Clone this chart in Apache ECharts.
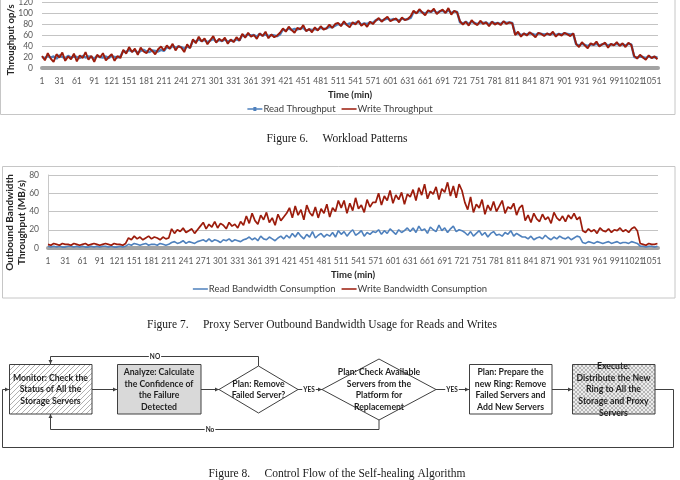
<!DOCTYPE html>
<html>
<head>
<meta charset="utf-8">
<script src="https://cdn.jsdelivr.net/npm/echarts@6/dist/echarts.min.js"></script>
<style>
html, body { margin: 0; background: #fff; }
#main { width: 680px; height: 480px; }
</style>
</head>
<body>
<div id="main"></div>
<script>
// one sample every 5 minutes, minute 0 .. 1060
var STEP = 5;
var X_MAX = 1061;
var TICK = 30;

// Figure 6 - throughput (op/s)
var readThroughput = [
  20,18,22,19,21,17,23,20,18,22,19,21,20,18,22,19,21,20,17,22,20,19,21,18,22,20,19,21,
  31,29,33,30,32,28,31,33,30,29,32,31,30,33,31,
  38,36,40,37,39,38,35,39,37,
  50,48,52,49,51,47,50,53,48,51,49,52,48,50,49,52,50,
  60,58,61,59,60,57,62,59,61,58,60,59,58,61,
  70,68,72,69,71,70,72,73,68,70,69,71,70,73,71,72,75,74,77,
  80,78,82,79,81,80,82,84,79,81,80,83,82,
  87,89,86,88,90,87,89,88,86,90,88,89,91,
  102,100,104,101,99,103,102,105,100,103,104,101,105,100,103,102,
  83,81,84,80,84,82,80,83,82,83,79,84,81,82,80,84,82,83,82,
  62,63,60,62,61,63,62,60,63,62,61,62,61,63,60,62,61,63,62,61,62,
  43,41,44,42,40,43,42,44,41,43,44,41,43,42,44,42,43,41,44,43,
  20,19,21,20,18,21,19,20,19
];
var writeThroughput = [
  22,14,27,17,11,25,19,28,13,21,16,26,12,23,18,29,15,22,11,24,19,27,14,20,25,13,22,18,
  33,26,38,29,35,24,37,30,27,36,31,25,34,39,32,
  41,35,44,32,40,37,29,43,36,
  52,45,57,48,54,43,51,58,46,53,49,55,44,52,47,56,50,
  62,55,64,57,60,53,63,58,66,54,61,56,59,64,
  72,66,75,69,64,73,70,78,67,71,65,74,68,76,70,72,79,73,80,
  82,76,85,78,74,83,79,86,77,81,75,84,80,
  86,91,84,89,93,85,88,90,83,92,87,89,94,
  104,99,107,101,96,105,102,108,98,103,106,100,109,97,104,101,
  85,79,84,77,87,81,78,86,80,83,76,84,79,82,78,85,80,83,81,
  60,66,57,63,59,65,61,56,64,62,58,63,60,66,57,62,59,64,61,58,63,
  44,38,47,41,36,45,42,48,39,43,46,37,44,41,47,40,45,38,46,42,
  22,17,24,19,15,23,18,21,16
];

// Figure 7 - outbound bandwidth (MB/s)
var readBandwidth = [
  2,1,2,1,2,1,1,2,2,1,2,1,2,1,1,2,1,2,1,2,2,1,2,1,1,2,1,2,
  4,3,5,4,3,4,5,3,4,4,3,5,4,3,4,
  6,7,5,6,8,5,7,6,5,7,
  8,9,7,10,7,9,8,6,9,8,10,7,9,8,7,9,
  10,12,9,11,8,13,10,9,12,10,8,11,13,10,
  14,11,16,12,17,13,10,15,12,18,11,14,16,12,15,13,17,12,19,
  15,18,13,17,20,14,16,19,13,17,15,18,
  17,20,15,19,16,21,18,15,20,17,19,22,
  18,22,17,24,19,21,16,23,20,18,25,19,22,17,21,24,18,20,19,
  17,14,18,13,16,19,14,17,12,16,18,14,15,13,17,15,19,13,16,14,12,
  12,10,13,9,11,12,10,14,11,9,12,10,13,11,10,12,9,11,13,12,
  6,5,7,6,5,7,6,5,6,7,5,6,7,5,6,6,5,7,6,5,
  2,2,1,2,2,1,2
];
var writeBandwidth = [
  4,3,5,4,3,5,4,4,3,5,4,3,4,5,3,4,5,4,3,4,5,4,3,5,4,4,3,5,
  11,9,13,10,12,9,11,13,10,12,11,9,12,10,11,
  21,16,20,18,22,17,19,21,16,20,
  24,28,21,26,23,29,22,27,25,21,28,24,26,22,29,25,
  35,27,38,30,26,36,31,39,28,33,25,37,30,34,
  38,44,33,46,36,42,31,47,39,35,45,33,43,38,48,34,44,40,52,
  44,52,38,49,41,55,43,47,39,53,45,50,
  50,60,47,57,52,63,49,58,53,61,48,59,
  56,64,52,66,58,70,54,62,59,67,53,65,61,72,57,68,55,70,63,
  50,42,56,39,48,44,53,37,47,41,51,40,46,52,38,45,43,49,36,44,47,
  30,36,28,38,32,29,37,31,34,27,39,33,30,35,29,36,32,38,31,34,
  19,17,21,18,20,16,22,19,18,21,17,20,19,22,18,20,17,21,23,19,
  5,4,3,5,4,4,5
];

var BLUE = '#4f81bd';
var RED = '#9c1c0c';
var FONT = 'Lato';
var LINE = '#404040';
// legend icons: plain line, and line with a small marker
var ICON_LINE = 'path://M0,2H0.01V6H0Z M0,3.2H15V4.8H0Z';
var ICON_MARK = 'path://M0,2H0.01V6H0Z M0,3.2H15V4.8H0Z M6,2H9V6H6Z';

function toPairs(arr) {
  return arr.map(function (v, i) { return [i * STEP, v]; });
}

function xAxisFor(idx) {
  return {
    gridIndex: idx, type: 'value', min: 0, max: X_MAX, interval: TICK,
    axisLine: { lineStyle: { color: '#a3a3a3', width: 4 } },
    axisTick: { show: false },
    splitLine: { show: false },
    axisLabel: {
      color: '#595959', fontSize: 8.5, fontFamily: FONT, margin: 9, showMaxLabel: false,
      formatter: function (v) { return String(v + 1); }
    },
    name: 'Time (min)', nameLocation: 'middle', nameGap: 22, nameMoveOverlap: false,
    nameTextStyle: { fontWeight: 'bold', fontSize: 9.5, color: '#262626', fontFamily: FONT }
  };
}

function yAxisFor(idx, max, name, gap, showLine, size, shift) {
  return {
    gridIndex: idx, type: 'value', min: 0, max: max, interval: 20,
    axisLine: { show: showLine, lineStyle: { color: '#c8c8c8' } },
    axisTick: { show: false },
    splitLine: { lineStyle: { color: '#c4c4c4' } },
    axisLabel: { color: '#595959', fontSize: 8.5, fontFamily: FONT, margin: 9 },
    name: name, nameLocation: 'middle', nameGap: gap, nameMoveOverlap: false,
    nameTextStyle: { fontWeight: 'bold', fontSize: size, color: '#262626', fontFamily: FONT,
      lineHeight: 12, padding: [0, shift, 0, 0] }
  };
}

function lineSeries(name, data, axis, color, width) {
  return {
    name: name, type: 'line', xAxisIndex: axis, yAxisIndex: axis,
    data: toPairs(data),
    symbol: 'none',
    lineStyle: { color: color, width: width },
    itemStyle: { color: color },
    emphasis: { disabled: true }
  };
}

// fill patterns for the flowchart boxes
function hatch() {
  var c = document.createElement('canvas');
  c.width = 5; c.height = 5;
  var g = c.getContext('2d');
  g.fillStyle = '#ffffff'; g.fillRect(0, 0, 5, 5);
  g.strokeStyle = '#a8a8a8'; g.lineWidth = 0.9;
  g.beginPath();
  g.moveTo(0, 5); g.lineTo(5, 0);
  g.moveTo(-1, 1); g.lineTo(1, -1);
  g.moveTo(4, 6); g.lineTo(6, 4);
  g.stroke();
  return c;
}
function crossHatch() {
  var c = document.createElement('canvas');
  c.width = 4; c.height = 4;
  var g = c.getContext('2d');
  g.fillStyle = '#ececec'; g.fillRect(0, 0, 4, 4);
  g.strokeStyle = '#a9a9a9'; g.lineWidth = 0.8;
  g.beginPath();
  g.moveTo(0, 0); g.lineTo(4, 4);
  g.moveTo(0, 4); g.lineTo(4, 0);
  g.stroke();
  return c;
}

var graphics = [];

function frame(x, y, w, h) {
  graphics.push({ type: 'rect', silent: true, shape: { x: x, y: y, width: w, height: h },
    style: { fill: null, stroke: '#c6c6c6', lineWidth: 1 } });
}
function caption(text, x, y, align) {
  graphics.push({ type: 'text', x: x, y: y, silent: true,
    style: { text: text, fill: '#1a1a1a', font: '11.5px "Liberation Serif"', align: align || 'center', verticalAlign: 'middle' } });
}
function label(text, x, y, size, bg) {
  graphics.push({ type: 'text', x: x, y: y, silent: true, z: 20,
    style: { text: text, fill: '#1f1f1f', font: 'bold ' + size + 'px ' + FONT, align: 'center', verticalAlign: 'middle',
      lineHeight: 11.6, backgroundColor: bg || null, padding: bg ? [0, 1] : 0 } });
}
function path(points) {
  graphics.push({ type: 'polyline', silent: true, shape: { points: points },
    style: { stroke: LINE, lineWidth: 1, fill: null } });
}
function arrow(x, y, dir) {
  var p;
  if (dir === 'right') p = [[x, y], [x - 4, y - 2], [x - 4, y + 2]];
  else if (dir === 'down') p = [[x, y], [x - 2, y - 4], [x + 2, y - 4]];
  else p = [[x, y], [x - 2, y + 4], [x + 2, y + 4]];
  graphics.push({ type: 'polygon', silent: true, z: 15, shape: { points: p }, style: { fill: LINE } });
}
function box(x, y, w, h, fill) {
  graphics.push({ type: 'rect', silent: true, shape: { x: x, y: y, width: w, height: h },
    style: { fill: fill, stroke: LINE, lineWidth: 1 } });
}
function diamond(l, t, r, b) {
  var cx = (l + r) / 2, cy = (t + b) / 2;
  graphics.push({ type: 'polygon', silent: true, shape: { points: [[l, cy], [cx, t], [r, cy], [cx, b]] },
    style: { fill: '#ffffff', stroke: LINE, lineWidth: 1 } });
}

// chart frames
frame(0.5, -2, 674.5, 116.5);
frame(2.5, 166.5, 672.5, 131.5);

// captions
caption('Figure 6.     Workload Patterns', 337, 139);
caption('Figure 7.     Proxy Server Outbound Bandwidth Usage for Reads and Writes', 147, 325, 'left');
caption('Figure 8.     Control Flow of the Self-healing Algorithm', 337, 474);

// flowchart connectors
path([[655, 389.5], [673.5, 389.5], [673.5, 447.5], [2.5, 447.5], [2.5, 389.5], [9, 389.5]]);
arrow(9, 389.5, 'right');
path([[92, 389.5], [117, 389.5]]); arrow(117, 389.5, 'right');
path([[201, 389.5], [219, 389.5]]); arrow(219, 389.5, 'right');
path([[258.5, 366], [258.5, 356.5], [50.5, 356.5], [50.5, 364]]); arrow(50.5, 364, 'down');
path([[298, 389.5], [322, 389.5]]); arrow(322, 389.5, 'right');
path([[379, 420], [379, 429.5], [50.5, 429.5], [50.5, 414]]); arrow(50.5, 414, 'up');
path([[436, 389.5], [469, 389.5]]); arrow(469, 389.5, 'right');
path([[552, 389.5], [572, 389.5]]); arrow(572, 389.5, 'right');

// flowchart nodes
box(9.5, 364.5, 82.5, 49.5, { image: hatch(), repeat: 'repeat' });
box(117.5, 364.5, 83.5, 49.5, '#d9d9d9');
diamond(219, 366, 298, 413);
diamond(322, 359, 436, 420);
box(469.5, 364.5, 82.5, 49.5, '#ffffff');
box(572.5, 364.5, 82.5, 49.5, { image: crossHatch(), repeat: 'repeat' });

label('Monitor: Check the\nStatus of All the\nStorage Servers', 50.5, 389.5, 8.7);
label('Analyze: Calculate\nthe Confidence of\nthe Failure\nDetected', 159, 389.5, 8.7);
label('Plan: Remove\nFailed Server?', 258.5, 389.5, 8.7);
label('Plan: Check Available\nServers from the\nPlatform for\nReplacement', 379, 389.5, 8.7);
label('Plan: Prepare the\nnew Ring: Remove\nFailed Servers and\nAdd New Servers', 510.5, 389.5, 8.7);
label('Execute:\nDistribute the New\nRing to All the\nStorage and Proxy\nServers', 613.5, 389.5, 8.7);

label('NO', 155, 356.5, 6.5, '#ffffff');
label('YES', 309, 389.5, 6.5, '#ffffff');
label('No', 210, 429.5, 6.5, '#ffffff');
label('YES', 452, 389.5, 6.5, '#ffffff');

var chart = echarts.init(document.getElementById('main'), null, { renderer: 'canvas' });

var legendText = { fontSize: 9.5, color: '#404040', fontFamily: FONT, padding: [0, 0, 0, -4] };

var option = {
  animation: false,
  backgroundColor: '#ffffff',
  textStyle: { fontFamily: FONT },
  grid: [
    { left: 42, right: 22, top: 2, height: 66, containLabel: false, outerBoundsMode: 'none' },
    { left: 48, right: 22, top: 175, height: 73, containLabel: false, outerBoundsMode: 'none' }
  ],
  xAxis: [xAxisFor(0), xAxisFor(1)],
  yAxis: [
    yAxisFor(0, 120, 'Throughput op/s', 25, false, 9.5, 10),
    yAxisFor(1, 80, 'Outbound Bandwidth\nThroughput (MB/s)', 20, true, 10, 22)
  ],
  legend: [
    {
      data: [{ name: 'Read Throughput', icon: ICON_MARK }, { name: 'Write Throughput', icon: ICON_LINE }],
      top: 104, left: 'center', padding: 0,
      itemWidth: 15, itemHeight: 4, itemGap: 6,
      textStyle: legendText
    },
    {
      data: [{ name: 'Read Bandwidth Consumption', icon: ICON_LINE }, { name: 'Write Bandwidth Consumption', icon: ICON_LINE }],
      top: 284, left: 'center', padding: 0,
      itemWidth: 15, itemHeight: 4, itemGap: 6,
      textStyle: legendText
    }
  ],
  series: [
    lineSeries('Read Throughput', readThroughput, 0, BLUE, 2.4),
    lineSeries('Write Throughput', writeThroughput, 0, RED, 1.9),
    lineSeries('Read Bandwidth Consumption', readBandwidth, 1, BLUE, 1.6),
    lineSeries('Write Bandwidth Consumption', writeBandwidth, 1, RED, 1.7)
  ],
  graphic: graphics
};

chart.setOption(option);
</script>
</body>
</html>
